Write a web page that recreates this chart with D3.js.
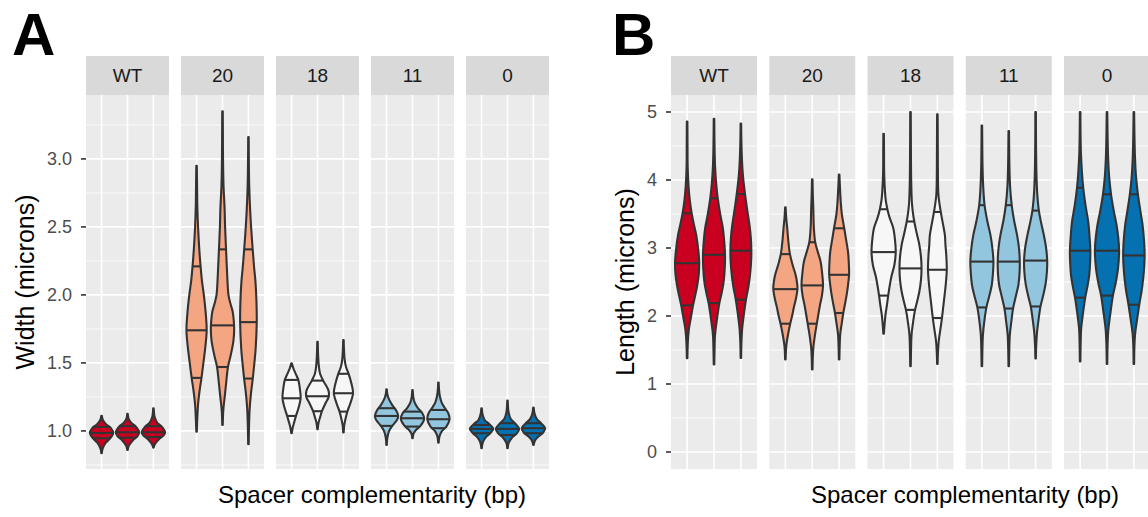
<!DOCTYPE html>
<html>
<head>
    <title>Cell width and length violins</title>
    <script src="https://cdnjs.cloudflare.com/ajax/libs/d3/7.8.5/d3.min.js"></script>
    <style>
        body { margin: 0; background: #fff; }
        text { font-family: "Liberation Sans", Arial, Helvetica, sans-serif; }
    </style>
</head>
<body>
    <svg id="chart"></svg>

    <script>
        // facets (spacer complementarity) and fills
        const facets = ["WT", "20", "18", "11", "0"];
        const fills = ["#CA0020", "#F4A582", "#F7F7F7", "#92C5DE", "#0571B0"];
        const replicates = [1, 2, 3];

        const widthTicks = [1.0, 1.5, 2.0, 2.5, 3.0];
        const lengthTicks = [0, 1, 2, 3, 4, 5];

        // violin profiles: [value, half width in category units]
        // one list per facet, three replicates each
        const widthProfiles = [
            [
                [[0.836,0.01],[0.87,0.04],[0.91,0.15],[0.95,0.35],[0.985,0.45],[1.02,0.36],[1.05,0.17],[1.08,0.05],[1.112,0.01]],
                [[0.86,0.01],[0.89,0.05],[0.93,0.2],[0.96,0.38],[0.99,0.45],[1.03,0.33],[1.06,0.14],[1.09,0.04],[1.125,0.01]],
                [[0.877,0.01],[0.9,0.05],[0.94,0.22],[0.97,0.4],[0.99,0.45],[1.03,0.33],[1.06,0.15],[1.1,0.05],[1.167,0.01]]
            ],
            [
                [[0.995,0.01],[1.1,0.03],[1.2,0.06],[1.3,0.12],[1.39,0.19],[1.51,0.27],[1.62,0.34],[1.74,0.39],[1.85,0.36],[2.0,0.28],[2.1,0.21],[2.21,0.155],[2.35,0.1],[2.49,0.06],[2.65,0.03],[2.8,0.02],[2.95,0.01]],
                [[1.044,0.01],[1.15,0.03],[1.26,0.09],[1.37,0.15],[1.47,0.21],[1.56,0.32],[1.66,0.42],[1.75,0.45],[1.82,0.43],[1.88,0.39],[1.94,0.3],[2.0,0.23],[2.15,0.18],[2.32,0.14],[2.5,0.1],[2.64,0.08],[2.8,0.04],[3.0,0.02],[3.2,0.015],[3.35,0.01]],
                [[0.902,0.01],[1.05,0.025],[1.17,0.05],[1.28,0.1],[1.39,0.17],[1.5,0.23],[1.61,0.28],[1.8,0.32],[1.95,0.31],[2.1,0.27],[2.2,0.22],[2.32,0.17],[2.45,0.12],[2.61,0.07],[2.8,0.03],[3.0,0.015],[3.16,0.01]]
            ],
            [
                [[0.983,0.01],[1.02,0.04],[1.07,0.11],[1.11,0.17],[1.17,0.27],[1.24,0.35],[1.31,0.32],[1.375,0.26],[1.42,0.16],[1.46,0.07],[1.497,0.01]],
                [[1.012,0.01],[1.06,0.04],[1.1,0.1],[1.145,0.17],[1.2,0.3],[1.255,0.44],[1.3,0.42],[1.37,0.22],[1.42,0.1],[1.48,0.05],[1.55,0.025],[1.656,0.01]],
                [[0.988,0.01],[1.04,0.03],[1.09,0.08],[1.142,0.15],[1.2,0.26],[1.277,0.37],[1.34,0.32],[1.42,0.2],[1.47,0.1],[1.52,0.05],[1.6,0.02],[1.668,0.01]]
            ],
            [
                [[0.897,0.01],[0.95,0.03],[1.0,0.1],[1.037,0.22],[1.08,0.4],[1.11,0.45],[1.15,0.37],[1.19,0.22],[1.23,0.1],[1.27,0.03],[1.306,0.01]],
                [[0.946,0.01],[0.98,0.04],[1.01,0.15],[1.04,0.32],[1.09,0.45],[1.13,0.38],[1.17,0.2],[1.21,0.08],[1.25,0.03],[1.3,0.01]],
                [[0.914,0.01],[0.96,0.04],[1.0,0.14],[1.03,0.3],[1.086,0.43],[1.13,0.38],[1.17,0.24],[1.21,0.12],[1.26,0.05],[1.31,0.02],[1.355,0.01]]
            ],
            [
                [[0.873,0.01],[0.91,0.04],[0.95,0.15],[0.983,0.33],[1.015,0.45],[1.05,0.3],[1.08,0.12],[1.12,0.04],[1.167,0.01]],
                [[0.873,0.01],[0.91,0.04],[0.95,0.17],[0.98,0.35],[1.015,0.45],[1.05,0.32],[1.09,0.12],[1.14,0.04],[1.223,0.01]],
                [[0.897,0.01],[0.93,0.06],[0.96,0.2],[0.99,0.38],[1.02,0.45],[1.055,0.3],[1.09,0.12],[1.13,0.04],[1.171,0.01]]
            ]
        ];

        // 25%, 50%, 75% lines
        const widthQuantiles = [
            [[0.946,0.985,1.03],[0.95,0.99,1.035],[0.955,0.99,1.035]],
            [[1.39,1.74,2.21],[1.47,1.776,2.335],[1.385,1.80,2.335]],
            [[1.11,1.24,1.375],[1.145,1.255,1.37],[1.142,1.277,1.42]],
            [[1.037,1.11,1.167],[1.032,1.093,1.142],[1.02,1.086,1.154]],
            [[0.983,1.015,1.044],[0.97,1.015,1.057],[0.983,1.02,1.057]]
        ];

        const lengthProfiles = [
            [
                [[1.38,0.01],[1.55,0.02],[1.7,0.04],[1.82,0.07],[2.0,0.15],[2.156,0.22],[2.3,0.3],[2.46,0.38],[2.6,0.43],[2.777,0.45],[2.95,0.42],[3.19,0.34],[3.35,0.25],[3.51,0.17],[3.7,0.1],[3.925,0.05],[4.2,0.02],[4.5,0.015],[4.86,0.01]],
                [[1.286,0.01],[1.5,0.02],[1.726,0.04],[1.95,0.11],[2.19,0.2],[2.35,0.29],[2.507,0.36],[2.7,0.4],[2.9,0.41],[3.1,0.38],[3.29,0.33],[3.5,0.23],[3.73,0.14],[3.95,0.08],[4.2,0.04],[4.5,0.02],[4.9,0.01]],
                [[1.384,0.01],[1.6,0.02],[1.82,0.05],[2.05,0.12],[2.24,0.19],[2.43,0.28],[2.606,0.34],[2.8,0.38],[2.96,0.39],[3.15,0.37],[3.339,0.32],[3.55,0.24],[3.793,0.155],[4.05,0.08],[4.3,0.04],[4.55,0.02],[4.83,0.01]]
            ],
            [
                [[1.36,0.01],[1.48,0.02],[1.58,0.04],[1.75,0.11],[1.887,0.18],[2.0,0.25],[2.117,0.31],[2.25,0.39],[2.40,0.45],[2.5,0.43],[2.606,0.38],[2.75,0.27],[2.91,0.17],[3.1,0.11],[3.29,0.07],[3.45,0.03],[3.6,0.01]],
                [[1.213,0.01],[1.38,0.02],[1.53,0.04],[1.72,0.1],[1.887,0.17],[2.03,0.23],[2.166,0.29],[2.3,0.36],[2.45,0.40],[2.62,0.37],[2.8,0.31],[2.95,0.2],[3.085,0.11],[3.3,0.06],[3.58,0.04],[3.8,0.02],[4.01,0.01]],
                [[1.36,0.01],[1.55,0.02],[1.726,0.04],[1.9,0.1],[2.044,0.155],[2.18,0.22],[2.31,0.28],[2.45,0.33],[2.606,0.37],[2.78,0.36],[2.947,0.33],[3.12,0.26],[3.29,0.19],[3.5,0.1],[3.68,0.06],[3.9,0.03],[4.08,0.01]]
            ],
            [
                [[1.74,0.01],[1.85,0.03],[2.02,0.07],[2.18,0.13],[2.30,0.17],[2.43,0.22],[2.58,0.29],[2.75,0.40],[2.94,0.45],[3.09,0.43],[3.29,0.36],[3.45,0.22],[3.57,0.14],[3.7,0.08],[3.83,0.05],[4.1,0.02],[4.4,0.015],[4.68,0.01]],
                [[1.26,0.01],[1.5,0.02],[1.726,0.04],[1.92,0.1],[2.09,0.17],[2.22,0.25],[2.36,0.33],[2.53,0.39],[2.70,0.41],[2.87,0.39],[3.045,0.33],[3.22,0.23],[3.39,0.14],[3.55,0.08],[3.68,0.05],[4.0,0.025],[4.5,0.015],[5.0,0.01]],
                [[1.296,0.01],[1.45,0.02],[1.63,0.05],[1.8,0.11],[1.97,0.17],[2.14,0.22],[2.31,0.27],[2.5,0.32],[2.68,0.35],[2.9,0.33],[3.05,0.3],[3.19,0.28],[3.37,0.2],[3.545,0.12],[3.78,0.04],[4.1,0.02],[4.5,0.015],[4.966,0.01]]
            ],
            [
                [[1.26,0.01],[1.5,0.02],[1.726,0.04],[1.95,0.1],[2.13,0.17],[2.3,0.28],[2.46,0.37],[2.62,0.41],[2.80,0.43],[3.0,0.39],[3.19,0.32],[3.4,0.2],[3.63,0.1],[3.9,0.05],[4.2,0.025],[4.5,0.015],[4.80,0.01]],
                [[1.26,0.01],[1.5,0.02],[1.72,0.04],[1.93,0.1],[2.11,0.16],[2.3,0.27],[2.46,0.36],[2.62,0.4],[2.80,0.41],[3.0,0.38],[3.19,0.31],[3.4,0.2],[3.63,0.11],[3.9,0.05],[4.2,0.025],[4.5,0.015],[4.72,0.01]],
                [[1.374,0.01],[1.55,0.02],[1.75,0.05],[1.95,0.11],[2.14,0.18],[2.3,0.28],[2.47,0.37],[2.65,0.42],[2.815,0.43],[3.0,0.39],[3.2,0.3],[3.38,0.2],[3.55,0.12],[3.8,0.06],[4.1,0.03],[4.5,0.015],[5.0,0.01]]
            ],
            [
                [[1.33,0.01],[1.6,0.02],[1.82,0.04],[2.05,0.11],[2.27,0.19],[2.45,0.28],[2.606,0.34],[2.78,0.37],[2.96,0.38],[3.17,0.35],[3.39,0.3],[3.63,0.2],[3.87,0.12],[4.1,0.07],[4.4,0.03],[4.7,0.015],[5.0,0.01]],
                [[1.296,0.01],[1.55,0.02],[1.8,0.05],[2.05,0.13],[2.30,0.22],[2.5,0.33],[2.7,0.41],[2.96,0.45],[3.15,0.42],[3.35,0.35],[3.55,0.25],[3.79,0.15],[4.05,0.08],[4.35,0.04],[4.7,0.02],[5.0,0.01]],
                [[1.296,0.01],[1.55,0.02],[1.75,0.05],[1.95,0.12],[2.166,0.2],[2.4,0.3],[2.65,0.37],[2.89,0.40],[3.1,0.38],[3.35,0.32],[3.55,0.24],[3.79,0.15],[4.05,0.08],[4.35,0.04],[4.7,0.02],[5.0,0.01]]
            ]
        ];

        const lengthQuantiles = [
            [[2.156,2.777,3.51],[2.19,2.90,3.73],[2.24,2.96,3.793]],
            [[1.887,2.395,2.91],[1.887,2.45,3.085],[2.044,2.606,3.29]],
            [[2.30,2.94,3.57],[2.09,2.70,3.39],[1.97,2.68,3.53]],
            [[2.126,2.80,3.63],[2.11,2.80,3.63],[2.14,2.815,3.55]],
            [[2.27,2.96,3.886],[2.30,2.96,3.79],[2.166,2.89,3.79]]
        ];

        const width = 1148;
        const height = 517;

        const svg = d3.select("#chart")
            .attr("width", width)
            .attr("height", height);

        const panels = [
            {
                label: "A", labelX: 12, left: 86, facetW: 83, step: 95,
                domain: [0.72, 3.47], ticks: widthTicks, fmt: d3.format(".1f"),
                profiles: widthProfiles, quantiles: widthQuantiles,
                yTitle: "Width (microns)", yTitleX: 25, xTitleX: 372
            },
            {
                label: "B", labelX: 612, left: 671, facetW: 86, step: 98.25,
                domain: [-0.25, 5.25], ticks: lengthTicks, fmt: d3.format("d"),
                profiles: lengthProfiles, quantiles: lengthQuantiles,
                yTitle: "Length (microns)", yTitleX: 625, xTitleX: 965
            }
        ];

        const panelTop = 95, panelBottom = 469, stripH = 39;

        // linear lookup of the half width at a value, for the quantile segments
        function halfWidthAt(profile, v) {
            for (let i = 1; i < profile.length; i++) {
                const a = profile[i - 1], b = profile[i];
                if (v >= a[0] && v <= b[0]) {
                    return a[1] + (b[1] - a[1]) * (v - a[0]) / (b[0] - a[0]);
                }
            }
            return 0;
        }

        panels.forEach(p => {
            const g = svg.append("g");
            const y = d3.scaleLinear().domain(p.domain).range([panelBottom, panelTop]);
            const tStep = p.ticks[1] - p.ticks[0];
            const minor = d3.range(p.ticks[0] - tStep / 2, p.domain[1], tStep)
                .filter(v => v > p.domain[0]);

            const x = d3.scalePoint().domain(replicates).range([0, p.facetW]).padding(0.6);
            const unit = x.step();

            facets.forEach((f, fi) => {
                const fx = p.left + fi * p.step;
                const fg = g.append("g").attr("transform", `translate(${fx},0)`);

                fg.append("rect")
                    .attr("x", 0).attr("y", panelTop)
                    .attr("width", p.facetW).attr("height", panelBottom - panelTop)
                    .attr("fill", "#EBEBEB");

                fg.selectAll(".minor")
                    .data(minor)
                    .join("line")
                    .attr("x1", 0).attr("x2", p.facetW)
                    .attr("y1", d => y(d)).attr("y2", d => y(d))
                    .attr("stroke", "#fff").attr("stroke-width", 0.8);

                fg.selectAll(".major")
                    .data(p.ticks)
                    .join("line")
                    .attr("x1", 0).attr("x2", p.facetW)
                    .attr("y1", d => y(d)).attr("y2", d => y(d))
                    .attr("stroke", "#fff").attr("stroke-width", 1.6);

                fg.selectAll(".vgrid")
                    .data(replicates)
                    .join("line")
                    .attr("x1", d => x(d)).attr("x2", d => x(d))
                    .attr("y1", panelTop).attr("y2", panelBottom)
                    .attr("stroke", "#fff").attr("stroke-width", 1.6);

                // strip
                fg.append("rect")
                    .attr("x", 0).attr("y", panelTop - stripH)
                    .attr("width", p.facetW).attr("height", stripH)
                    .attr("fill", "#D9D9D9");
                fg.append("text")
                    .attr("x", p.facetW / 2).attr("y", panelTop - stripH / 2)
                    .attr("dy", "0.36em")
                    .attr("text-anchor", "middle")
                    .attr("font-size", 19)
                    .attr("fill", "#1A1A1A")
                    .text(f);

                // violins
                replicates.forEach((r, ri) => {
                    const cx = x(r);
                    const prof = p.profiles[fi][ri];
                    const area = d3.area()
                        .curve(d3.curveCatmullRom.alpha(0.5))
                        .y(d => y(d[0]))
                        .x0(d => cx - d[1] * unit)
                        .x1(d => cx + d[1] * unit);

                    fg.append("path")
                        .attr("d", area(prof))
                        .attr("fill", fills[fi])
                        .attr("stroke", "#333333")
                        .attr("stroke-width", 2.1)
                        .attr("stroke-linejoin", "round");

                    fg.selectAll(null)
                        .data(p.quantiles[fi][ri])
                        .join("line")
                        .attr("x1", d => cx - halfWidthAt(prof, d) * unit)
                        .attr("x2", d => cx + halfWidthAt(prof, d) * unit)
                        .attr("y1", d => y(d)).attr("y2", d => y(d))
                        .attr("stroke", "#333333")
                        .attr("stroke-width", 2.1);
                });
            });

            // y axis
            const axis = g.append("g");
            axis.selectAll(".tick")
                .data(p.ticks)
                .join("line")
                .attr("x1", p.left - 5).attr("x2", p.left)
                .attr("y1", d => y(d)).attr("y2", d => y(d))
                .attr("stroke", "#333333").attr("stroke-width", 1.6);
            axis.selectAll(".lab")
                .data(p.ticks)
                .join("text")
                .attr("x", p.left - 14)
                .attr("y", d => y(d))
                .attr("dy", "0.36em")
                .attr("text-anchor", "end")
                .attr("font-size", 18)
                .attr("fill", "#4D4D4D")
                .text(d => p.fmt(d));

            g.append("text")
                .attr("transform", `translate(${p.yTitleX},${(panelTop + panelBottom) / 2}) rotate(-90)`)
                .attr("dy", "0.36em")
                .attr("text-anchor", "middle")
                .attr("font-size", 25)
                .attr("fill", "#000")
                .text(p.yTitle);

            g.append("text")
                .attr("x", p.xTitleX).attr("y", 503)
                .attr("text-anchor", "middle")
                .attr("font-size", 24)
                .attr("fill", "#000")
                .text("Spacer complementarity (bp)");

            g.append("text")
                .attr("x", p.labelX).attr("y", 55)
                .attr("font-size", 60)
                .attr("font-weight", "bold")
                .attr("fill", "#000")
                .text(p.label);
        });
    </script>
</body>
</html>
